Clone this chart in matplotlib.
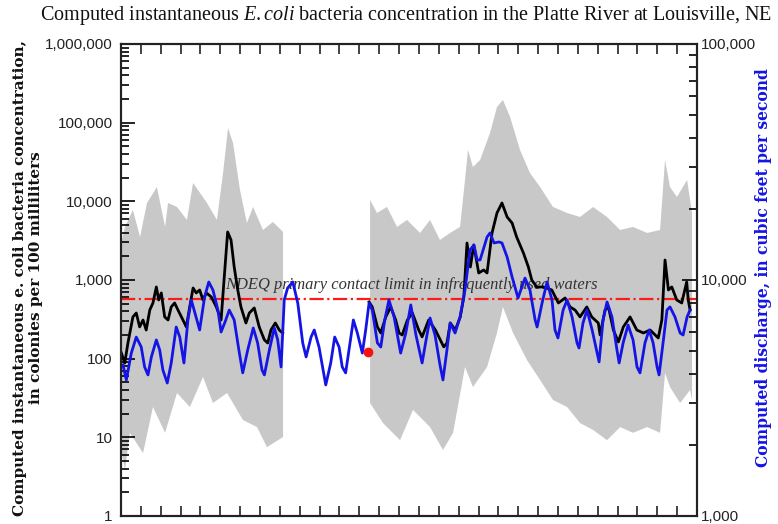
import numpy as np
import matplotlib.pyplot as plt
from matplotlib.ticker import FixedLocator, FuncFormatter, LogLocator, NullFormatter

plt.rcParams['mathtext.fontset'] = 'custom'
plt.rcParams['mathtext.rm'] = 'Liberation Serif'
plt.rcParams['mathtext.it'] = 'Liberation Serif:italic'

# time axis in days from start of the record, 0..29
# computed E. coli, colonies per 100 mL (two runs, gap in the middle)
ecoli_day_1 = [0.02, 0.19, 0.35, 0.60, 0.77, 0.94, 1.11, 1.27, 1.45, 1.61,
               1.78, 1.90, 2.03, 2.20, 2.37, 2.53, 2.70, 2.87, 3.12, 3.29,
               3.46, 3.63, 3.79, 3.96, 4.13, 4.30, 4.55, 4.80, 5.04, 5.20,
               5.37, 5.54, 5.70, 5.88, 6.04, 6.29, 6.46, 6.71, 6.96, 7.22,
               7.39, 7.55, 7.77, 7.97, 8.14]
ecoli_val_1 = [118, 88, 158, 339, 380, 253, 310, 231, 415, 510,
               815, 557, 684, 339, 310, 454, 510, 415, 310, 253,
               454, 791, 684, 746, 557, 684, 608, 454, 310, 1092,
               4075, 3220, 1462, 746, 454, 284, 380, 441, 253, 173,
               158, 231, 284, 231, 212]
ecoli_day_2 = [12.49, 12.65, 12.91, 13.08, 13.33, 13.58, 13.83, 14.00, 14.16, 14.42,
               14.67, 14.99, 15.16, 15.49, 15.83, 16.25, 16.41, 16.58, 16.83, 17.08,
               17.26, 17.42, 17.59, 17.76, 18.01, 18.26, 18.43, 18.68, 18.93, 19.18,
               19.44, 19.69, 19.92, 20.26, 20.51, 20.68, 20.93, 21.26, 21.69, 22.02,
               22.36, 22.61, 22.86, 23.11, 23.45, 23.70, 24.03, 24.12, 24.37, 24.54,
               24.79, 25.04, 25.29, 25.63, 25.97, 26.30, 26.64, 27.05, 27.23, 27.39,
               27.56, 27.73, 27.98, 28.23, 28.48, 28.56, 28.65]
ecoli_val_2 = [525, 454, 253, 212, 339, 454, 310, 212, 200, 310,
               380, 231, 189, 310, 231, 141, 158, 284, 231, 339,
               608, 2950, 1462, 2785, 1227, 1340, 1227, 3960, 7110, 9525,
               6320, 5300, 3520, 2205, 1462, 1000, 815, 815, 746, 510,
               590, 454, 415, 339, 454, 339, 284, 200, 415, 454,
               231, 163, 253, 339, 231, 212, 231, 183, 310, 1795,
               746, 815, 557, 510, 942, 557, 415]

# uncertainty band, upper and lower edges
band_up_day_1 = [0.05, 0.20, 0.60, 0.96, 1.31, 1.81, 2.22, 2.37, 2.82, 3.32, 3.63, 3.98, 4.33, 4.83,
                 5.14, 5.39, 5.64, 5.99, 6.34, 6.65, 7.15, 7.65, 8.16]
band_up_val_1 = [3220, 4720, 7760, 3520, 9525, 15200, 4720, 9525, 8470, 5790, 17100, 12760, 9525, 5790,
                 22900, 85500, 55100, 13930, 5300, 8470, 4320, 5460, 4075]
band_lo_day_1 = [0.05, 0.20, 0.45, 1.11, 1.61, 2.22, 2.82, 3.47, 4.13, 4.63, 5.34, 6.14, 6.85, 7.35, 8.16]
band_lo_val_1 = [6.3, 3.8, 11.4, 6.3, 24.3, 11.4, 36.6, 24.3, 58.5, 27.3, 36.6, 16.6, 13.5, 7.5, 10.1]

band_up_day_2 = [12.54, 12.89, 13.39, 13.90, 14.40, 15.06, 15.56, 16.06, 16.57, 17.07, 17.32, 17.47,
                 17.72, 18.08, 18.58, 18.93, 19.23, 19.59, 20.09, 20.59, 21.10, 21.75, 22.46, 23.11,
                 23.77, 24.47, 25.13, 25.78, 26.49, 27.14, 27.39, 27.64, 27.99, 28.50, 28.75]
band_up_val_2 = [10400, 7110, 8470, 4720, 5790, 3960, 5790, 3220, 3960, 4720, 18660, 44900,
                 27300, 33500, 73900, 158000, 194000, 118000, 44900, 22900, 15200, 8470, 7110, 6320,
                 8470, 6320, 4320, 4720, 3960, 4320, 33500, 15200, 11350, 18660, 7110]
band_lo_day_2 = [12.54, 13.19, 14.05, 14.70, 15.56, 16.21, 16.72, 17.32, 17.72, 18.43, 18.93, 19.23,
                 19.74, 20.44, 21.10, 21.75, 22.46, 23.11, 23.77, 24.47, 25.13, 25.78, 26.49, 27.14,
                 27.39, 27.64, 28.15, 28.65, 28.75]
band_lo_val_2 = [27.3, 15.2, 9.2, 22.3, 13.5, 6.9, 11.4, 78.3, 43.6, 78.3, 212, 454,
                 212, 96, 53.6, 29.8, 24.3, 15.2, 12.4, 9.2, 13.5, 11.4, 13.5, 11.4,
                 65.8, 43.6, 27.3, 40, 29.8]

# computed discharge, cubic feet per second
flow_day = [0.10, 0.27, 0.52, 0.77, 1.02, 1.19, 1.36, 1.53, 1.78, 1.95,
            2.11, 2.33, 2.53, 2.78, 2.96, 3.17, 3.37, 3.54, 3.75, 3.96,
            4.21, 4.42, 4.63, 4.88, 5.04, 5.24, 5.45, 5.70, 5.96, 6.13,
            6.38, 6.66, 6.88, 7.10, 7.22, 7.47, 7.72, 7.89, 8.06, 8.22,
            8.39, 8.65, 8.90, 9.15, 9.32, 9.57, 9.73, 9.97, 10.31, 10.56,
            10.76, 10.98, 11.14, 11.31, 11.48, 11.70, 11.90, 12.15, 12.32, 12.49,
            12.65, 12.91, 13.08, 13.28, 13.49, 13.75, 14.08, 14.34, 14.59, 14.85,
            15.16, 15.36, 15.56, 15.81, 16.06, 16.21, 16.41, 16.57, 16.82, 17.07,
            17.32, 17.57, 17.77, 17.93, 18.08, 18.43, 18.58, 18.78, 19.03, 19.18,
            19.44, 19.69, 19.99, 20.34, 20.59, 20.85, 20.95, 21.20, 21.45, 21.70,
            21.85, 22.00, 22.26, 22.46, 22.71, 22.96, 23.06, 23.26, 23.46, 23.72,
            23.97, 24.07, 24.27, 24.47, 24.72, 24.97, 25.08, 25.28, 25.53, 25.78,
            25.98, 26.13, 26.38, 26.59, 26.79, 26.99, 27.09, 27.29, 27.49, 27.64,
            27.89, 28.15, 28.30, 28.50, 28.65]
flow_val = [4365, 3770, 4900, 5730, 5200, 4280, 3960, 4720, 5570, 5050,
            4155, 3660, 4450, 6320, 5730, 4450, 6770, 8230, 7110, 6140,
            8470, 9806, 9070, 7460, 6020, 6640, 7460, 6770, 4900, 4040,
            5050, 6260, 5410, 4155, 3960, 5050, 6260, 5570, 4280, 8230,
            9250, 9806, 7990, 5410, 4720, 5730, 6140, 5200, 3590, 4450,
            5730, 5200, 4280, 4040, 5050, 6770, 5960, 4900, 6140, 7990,
            7460, 5410, 5200, 6770, 8230, 6970, 4900, 5960, 7840, 5845,
            4450, 5570, 6900, 5845, 4365, 3770, 5050, 6575, 5960, 6970,
            9070, 13400, 14070, 12160, 12160, 15210, 15820, 14350, 14490, 14350,
            12510, 10300, 8390, 10190, 9070, 6770, 6320, 7990, 9806, 8230,
            6140, 5680, 7460, 8230, 6970, 5410, 5150, 6575, 7460, 6140,
            4900, 4495, 6770, 8070, 6970, 5050, 4450, 5410, 6445, 5570,
            4280, 4040, 5410, 6140, 5410, 4280, 3960, 5410, 7460, 7690,
            6970, 5960, 5845, 6970, 7460]

limit_val = 576
sample_day = [12.44]
sample_val = [122]

left_ticks = [1, 10, 100, 1000, 10000, 100000, 1000000]
right_ticks = [1000, 10000, 100000]
day_ticks = list(range(0, 30))


def comma(v, pos=None):
    return f"{int(round(v)):,}"


fig = plt.figure(figsize=(7.78, 5.24), dpi=100)
ax = fig.add_axes([0.1555, 0.0153, 0.7404, 0.9008])
ax2 = ax.twinx()

# gray band
for ud, uv, ld, lv in [(band_up_day_1, band_up_val_1, band_lo_day_1, band_lo_val_1),
                       (band_up_day_2, band_up_val_2, band_lo_day_2, band_lo_val_2)]:
    ax.fill(np.concatenate([ud, ld[::-1]]), np.concatenate([uv, lv[::-1]]),
            color='#c8c8c8', lw=0, zorder=1)

ax.axhline(limit_val, color='#ff1a1a', lw=1.6, ls='-.', zorder=3)
ax.text(5.24, 860, 'NDEQ primary contact limit in infrequently used waters',
        family='Liberation Serif', style='italic', fontsize=11.9, color='#333333',
        va='center', ha='left', zorder=4)

ax.plot(ecoli_day_1, ecoli_val_1, color='black', lw=2, zorder=5)
ax.plot(ecoli_day_2, ecoli_val_2, color='black', lw=2, zorder=5)

ax2.plot(flow_day, flow_val, color='#1414e6', lw=2)
ax2.plot(sample_day, sample_val, 'o', color='#ff1010', ms=6, transform=ax.transData)

ax.set_xlim(0, 29)
ax.set_yscale('log')
ax.set_ylim(1, 1000000)
ax2.set_yscale('log')
ax2.set_ylim(1000, 100000)

ax.xaxis.set_major_locator(FixedLocator(day_ticks))
ax.tick_params(axis='x', which='both', direction='in', top=True, bottom=True,
               labelbottom=False, length=7, width=1.2, color='#222222')
ax.yaxis.set_major_locator(FixedLocator(left_ticks))
ax.yaxis.set_minor_locator(LogLocator(base=10, subs=np.arange(2, 10), numticks=20))
ax.yaxis.set_major_formatter(FuncFormatter(comma))
ax.yaxis.set_minor_formatter(NullFormatter())
ax.tick_params(axis='y', which='major', direction='in', length=10, width=1.2, pad=6,
               labelsize=11, labelcolor='#222222', right=False)
ax.tick_params(axis='y', which='minor', direction='in', length=6, width=1.2, right=False)

ax2.yaxis.set_major_locator(FixedLocator(right_ticks))
ax2.yaxis.set_minor_locator(LogLocator(base=10, subs=np.arange(2, 10), numticks=20))
ax2.yaxis.set_major_formatter(FuncFormatter(comma))
ax2.yaxis.set_minor_formatter(NullFormatter())
ax2.tick_params(axis='y', which='major', direction='in', length=11, width=1.2, pad=3,
                labelsize=11, labelcolor='#222222')
ax2.tick_params(axis='y', which='minor', direction='in', length=6, width=1.2)

for a in (ax, ax2):
    for sp in a.spines.values():
        sp.set_linewidth(1.5)
        sp.set_color('#222222')
for lbl in ax.get_yticklabels() + ax2.get_yticklabels():
    lbl.set_family('Liberation Sans')

fig.text(0.522, 0.971,
         r'Computed instantaneous $\mathit{E.coli}$ bacteria concentration in the Platte River at Louisville, NE',
         family='Liberation Serif', fontsize=14.5, ha='center', va='center', color='#111111')
fig.text(0.036, 0.47,
         'Computed instantaneous e. coli bacteria concentration,\nin colonies per 100 milliliters',
         family='DejaVu Serif', weight='bold', fontsize=11, rotation=90,
         ha='center', va='center', multialignment='center', linespacing=1.2, color='#111111')
fig.text(0.981, 0.489, 'Computed discharge, in cubic feet per second',
         family='DejaVu Serif', weight='bold', fontsize=11.2, rotation=90,
         ha='center', va='center', color='#1414e6')

fig.savefig('out.png', dpi=100)
